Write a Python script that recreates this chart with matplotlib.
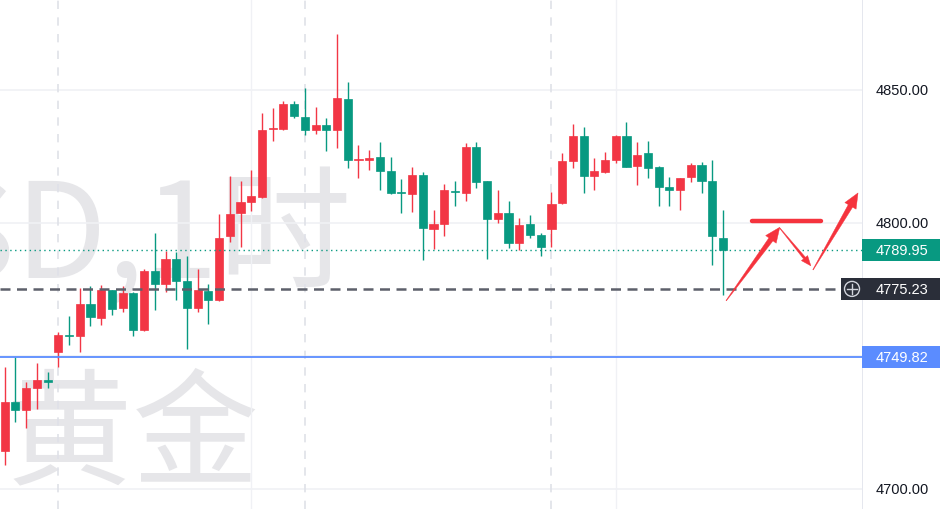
import matplotlib
matplotlib.use("Agg")
import matplotlib.pyplot as plt
import numpy as np
from matplotlib.patches import Rectangle, Polygon, Circle
from matplotlib.transforms import IdentityTransform, blended_transform_factory

# ---------------- data ----------------
opens = [4714.4, 4732.6, 4729.8, 4738.1, 4740.6, 4751.6, 4757.6, 4757.6, 4769.4, 4764.4,
         4774.8, 4767.9, 4773.8, 4759.8, 4781.8, 4777.1, 4786.4, 4778.1, 4768.2, 4774.5,
         4771.0, 4795.2, 4803.6, 4808.0, 4809.7, 4835.2, 4835.3, 4844.7, 4840.0, 4835.0,
         4836.8, 4835.1, 4846.6, 4823.5, 4823.8, 4824.7, 4819.4, 4811.4, 4810.9, 4818.0,
         4797.7, 4799.6, 4811.8, 4811.3, 4828.5, 4815.7, 4801.5, 4803.6, 4792.4, 4799.5,
         4795.5, 4797.7, 4807.4, 4823.2, 4832.8, 4817.8, 4819.3, 4823.8, 4832.8, 4821.3,
         4826.2, 4820.9, 4813.4, 4812.5, 4817.2, 4821.8, 4815.9, 4794.2]
highs = [4746.0, 4749.7, 4740.3, 4747.3, 4744.1, 4759.1, 4765.2, 4775.5, 4776.4, 4776.7,
         4775.0, 4776.2, 4774.0, 4782.7, 4796.2, 4789.6, 4789.0, 4787.7, 4782.7, 4777.2,
         4803.4, 4817.6, 4815.9, 4819.9, 4841.2, 4843.1, 4845.9, 4846.0, 4850.6, 4843.7,
         4839.5, 4871.0, 4853.1, 4829.3, 4827.4, 4830.3, 4824.7, 4816.5, 4820.9, 4819.1,
         4804.9, 4814.5, 4815.9, 4830.0, 4830.3, 4815.9, 4812.4, 4808.3, 4801.8, 4803.0,
         4796.1, 4811.8, 4826.3, 4837.3, 4836.0, 4824.4, 4826.8, 4833.2, 4838.1, 4830.3,
         4830.7, 4821.5, 4817.2, 4816.8, 4822.4, 4823.0, 4823.7, 4805.0]
lows = [4709.0, 4725.3, 4722.9, 4730.1, 4738.1, 4745.7, 4754.1, 4751.4, 4761.4, 4761.8,
        4765.4, 4766.7, 4757.6, 4759.5, 4767.4, 4774.2, 4771.2, 4752.6, 4766.7, 4762.0,
        4770.8, 4792.7, 4791.1, 4804.6, 4809.3, 4830.7, 4835.0, 4839.4, 4833.1, 4833.5,
        4826.9, 4828.1, 4820.6, 4816.8, 4820.0, 4812.4, 4810.9, 4803.8, 4804.2, 4786.2,
        4790.2, 4795.2, 4806.5, 4808.4, 4813.2, 4786.5, 4799.9, 4790.5, 4790.0, 4794.4,
        4787.7, 4790.9, 4807.0, 4820.6, 4811.2, 4812.4, 4818.7, 4822.6, 4820.9, 4814.3,
        4816.9, 4806.5, 4806.5, 4805.0, 4815.3, 4811.3, 4784.2, 4773.0]
closes = [4732.8, 4729.7, 4738.0, 4741.0, 4740.4, 4757.9, 4757.4, 4769.4, 4764.8, 4774.8,
          4767.6, 4773.8, 4759.8, 4781.8, 4777.1, 4786.4, 4778.1, 4768.2, 4774.8, 4771.0,
          4794.2, 4803.5, 4807.8, 4810.0, 4835.0, 4835.5, 4844.7, 4840.3, 4835.0, 4836.8,
          4835.1, 4846.9, 4823.8, 4823.7, 4824.5, 4819.5, 4811.3, 4811.2, 4818.0, 4798.0,
          4799.6, 4812.4, 4811.6, 4828.5, 4815.3, 4801.5, 4803.6, 4792.4, 4799.2, 4795.5,
          4790.9, 4807.1, 4823.2, 4832.8, 4817.8, 4819.5, 4823.8, 4832.8, 4820.9, 4825.7,
          4820.7, 4813.4, 4812.5, 4816.8, 4821.8, 4815.9, 4795.2, 4789.95]

price_ticks = [4700, 4750, 4800, 4850]
price_tick_labels = ["4700.00", "4750.00", "4800.00", "4850.00"]
last_price = 4789.95
crosshair_price = 4775.23
blue_level = 4749.82
session_breaks = [5, 28, 51]
grid_x = [23, 57]
watermark_line1 = "XAUUSD,1时"
watermark_line2 = "黄金"

# hand-drawn annotation (candle index, price)
arrow_paths = [((67.3, 4770.8), (72.3, 4798.4)),
               ((72.3, 4798.1), (75.2, 4783.9)),
               ((75.4, 4782.4), (79.6, 4811.3))]
hline_annot = ((69.7, 76.1), 4800.9)

# ---------------- style ----------------
UP = "#f23645"
DOWN = "#089981"
GRID = "#f0f1f5"
WM = "#e6e6e9"
RED_ANN = "#f5333d"
BLUE = "#5b8cff"

W, H = 940, 510
fig = plt.figure(figsize=(W / 100, H / 100), dpi=100)
fig.patch.set_facecolor("white")
plot_w = 862
ax = fig.add_axes([0, 0, plot_w / W, 1])
sc = fig.add_axes([plot_w / W, 0, 1 - plot_w / W, 1])

xmin, xmax = -0.438, 79.97
ymin, ymax = 4692.5, 4884.2
ax.set_xlim(xmin, xmax)
ax.set_ylim(ymin, ymax)
sc.set_xlim(0, 1)
sc.set_ylim(ymin, ymax)
for a in (ax, sc):
    a.set_xticks([])
    a.set_yticks([])
    for s in a.spines.values():
        s.set_visible(False)
    a.set_facecolor("none")

# watermark
wm_tr = blended_transform_factory(ax.transAxes, ax.transData)
ax.text(352 / plot_w, 4800 - (278 - 224) / 2.66, watermark_line1, transform=wm_tr,
        ha="right", va="baseline", fontsize=96, color=WM,
        family=["Noto Sans CJK SC", "DejaVu Sans"], zorder=0)
ax.text(6 / plot_w, 4800 - (474 - 224) / 2.66, watermark_line2, transform=wm_tr,
        ha="left", va="baseline", fontsize=91, color=WM,
        family=["Noto Sans CJK SC", "DejaVu Sans"], zorder=0)

# grid
for p in price_ticks:
    ax.axhline(p, color=GRID, lw=1.2, zorder=1)
for gx in grid_x:
    ax.axvline(gx, color=GRID, lw=1.0, zorder=1)
for sx in session_breaks:
    ax.axvline(sx, color="#dfe1e8", lw=1.2, ls=(0, (5, 5)), zorder=1)

# candles
x = np.arange(len(opens))
o = np.array(opens); c = np.array(closes); h = np.array(highs); l = np.array(lows)
cols = np.where(c >= o, UP, DOWN)
ax.vlines(x, l, h, colors=cols, lw=1.0, zorder=3)
bottom = np.minimum(o, c)
height = np.maximum(np.abs(c - o), 0.45)
ax.bar(x, height, bottom=bottom, width=0.76, color=cols, edgecolor=cols, lw=0.5, zorder=4)

# level lines
ax.axhline(blue_level, color=BLUE, lw=1.3, zorder=5)
ax.axhline(last_price, color=DOWN, lw=1.0, ls=(0, (1, 2.5)), zorder=5)
ax.axhline(crosshair_price, color="#5d606b", lw=1.8, ls=(0, (4, 2.6)), zorder=5)

# annotation drawing
fig.canvas.draw()
def tapered_arrow(p0, p1, w_tail, w_neck, head_len, head_w):
    a = ax.transData.transform(p0)
    b = ax.transData.transform(p1)
    d = b - a
    L = np.hypot(*d)
    u = d / L
    n = np.array([-u[1], u[0]])
    neck = b - u * head_len
    pts = [a + n * w_tail / 2, neck + n * w_neck / 2, neck + n * head_w / 2, b,
           neck - n * head_w / 2, neck - n * w_neck / 2, a - n * w_tail / 2]
    poly = Polygon(pts, closed=True, transform=IdentityTransform(),
                   facecolor=RED_ANN, edgecolor=RED_ANN, lw=0.3, zorder=8)
    fig.add_artist(poly)

tapered_arrow(*arrow_paths[0], 0.5, 5.0, 15, 13)
tapered_arrow(*arrow_paths[1], 0.5, 2.5, 10, 8)
tapered_arrow(*arrow_paths[2], 0.5, 5.0, 15, 13)
ax.plot(hline_annot[0], [hline_annot[1]] * 2, color=RED_ANN, lw=3.2,
        solid_capstyle="round", zorder=8)

# right price scale
sc.axvline(0, color="#e0e3eb", lw=1.2)
lab_font = dict(fontsize=10.5, family="Liberation Sans", va="center", ha="left")
for p, t in zip(price_ticks, price_tick_labels):
    sc.text(14 / 78, p, t, color="#131722", zorder=2, **lab_font)

th = 22 / 2.66
def tag(price, color, text):
    sc.add_patch(Rectangle((0, price - th / 2), 1, th, facecolor=color,
                           edgecolor="none", zorder=5))
    sc.text(14 / 78, price, text, color="white", zorder=6, **lab_font)

tag(last_price, DOWN, f"{last_price:.2f}")
tag(crosshair_price, "#2a2e39", f"{crosshair_price:.2f}")
tag(blue_level, BLUE, f"{blue_level:.2f}")

# crosshair icon box inside plot
bx0 = 841 / plot_w
ax.add_patch(Rectangle((bx0, crosshair_price - th / 2), 1 - bx0, th,
                       transform=blended_transform_factory(ax.transAxes, ax.transData),
                       facecolor="#2a2e39", edgecolor="none", zorder=9, clip_on=False))
cx, cy = ax.transData.transform((0, crosshair_price))
cx = 852
fig.add_artist(Circle((cx, cy), 7.5, transform=IdentityTransform(), fill=False,
                      edgecolor="#d1d4dc", lw=1.0, zorder=10))
fig.add_artist(plt.Line2D([cx - 5, cx + 5], [cy, cy], transform=IdentityTransform(),
                          color="#d1d4dc", lw=1.0, zorder=10))
fig.add_artist(plt.Line2D([cx, cx], [cy - 5, cy + 5], transform=IdentityTransform(),
                          color="#d1d4dc", lw=1.0, zorder=10))

fig.savefig("out.png", dpi=100, facecolor="white")
